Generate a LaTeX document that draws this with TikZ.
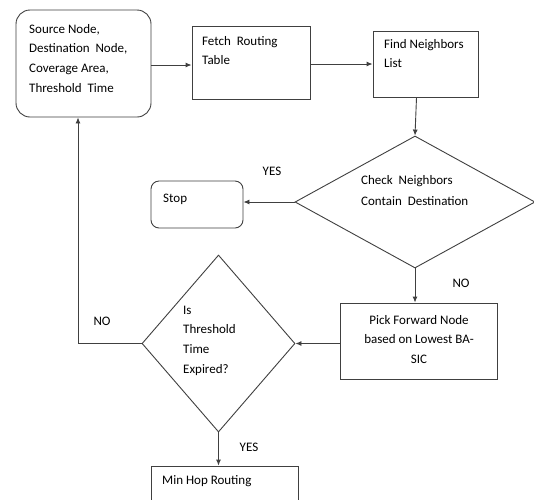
\documentclass[tikz,border=0pt]{standalone}
\usepackage{fontspec}
\setmainfont{Carlito}
\usetikzlibrary{shapes.geometric,arrows.meta}
\begin{document}
\begin{tikzpicture}[x=1pt,y=-1pt,
  line/.style={draw=black!75, line width=0.9pt},
  arr/.style={line, -{Latex[length=6pt,width=5pt]}},
  box/.style={line, rectangle, inner sep=0pt},
  dia/.style={line, diamond, inner sep=0pt},
  txt/.style={inner sep=0pt, align=left, font=\fontsize{13}{19.8}\selectfont},
  lbl/.style={inner sep=0pt, font=\fontsize{13}{14}\selectfont, anchor=base}
]
\clip (0,0) rectangle (534,499);
\fill[white] (0,0) rectangle (534,499);

% boxes
\node[box, rounded corners=14pt, minimum width=135pt, minimum height=107pt] (src) at (83.5,63.5) {};
\node[box, minimum width=118pt, minimum height=73pt] (fetch) at (251,62.5) {};
\node[box, minimum width=105pt, minimum height=66pt] (find) at (425.5,64) {};
\node[dia, minimum width=240pt, minimum height=132pt] (check) at (415,202) {};
\node[box, rounded corners=8pt, minimum width=92pt, minimum height=47pt] (stop) at (197,204.5) {};
\node[box, minimum width=157pt, minimum height=76pt] (pick) at (418.5,341) {};
\node[dia, minimum width=153pt, minimum height=177pt] (thr) at (218.5,343.5) {};
\node[box, minimum width=147pt, minimum height=50pt] (minhop) at (224.5,491) {};

% texts (base anchor = baseline of last line)
\node[txt, anchor=base west] (tsrc) at (29,92.4) {Source Node,\\Destination~~Node,\\Coverage Area,\\Threshold~~Time};
\node[txt, anchor=base west] (tfetch) at (202,64.8) {Fetch~~Routing\\Table};
\node[txt, anchor=base west] (tfind) at (384,67.8) {Find Neighbors\\List};
\node[txt, anchor=base west, font=\fontsize{13}{21}\selectfont] (tcheck) at (361,205) {Check~~Neighbors\\Contain~~Destination};
\node[txt, anchor=base west] (tstop) at (163,202) {Stop};
\node[txt, align=center, anchor=base] (tpick) at (419,363.6) {Pick Forward Node\\based on Lowest BA-\\SIC};
\node[txt, anchor=base west, font=\fontsize{13}{19.7}\selectfont] (tthr) at (183,373.1) {Is\\Threshold\\Time\\Expired?};
\node[txt, anchor=base west] (tmin) at (162,484) {Min Hop Routing};

% labels
\node[lbl] (yes1) at (272,175) {YES};
\node[lbl] (no1) at (461,287) {NO};
\node[lbl] (no2) at (102,325) {NO};
\node[lbl] (yes2) at (249,451) {YES};

% connectors
\draw[arr] (src.east |- 0,65) -- (fetch.west |- 0,65);
\draw[arr] (fetch.east |- 0,64) -- (find.west |- 0,64);
\draw[arr] ([xshift=-9pt]find.south) -- (check.north);
\draw[arr] (check.west) -- (stop.east |- check.west);
\draw[arr] (check.south) -- (pick.north -| check.south);
\draw[arr] (pick.west |- thr.east) -- (thr.east);
\draw[arr] (thr.west) -| ([xshift=-5.5pt]src.south);
\draw[arr] (thr.south) -- (minhop.north -| thr.south);
\end{tikzpicture}
\end{document}
